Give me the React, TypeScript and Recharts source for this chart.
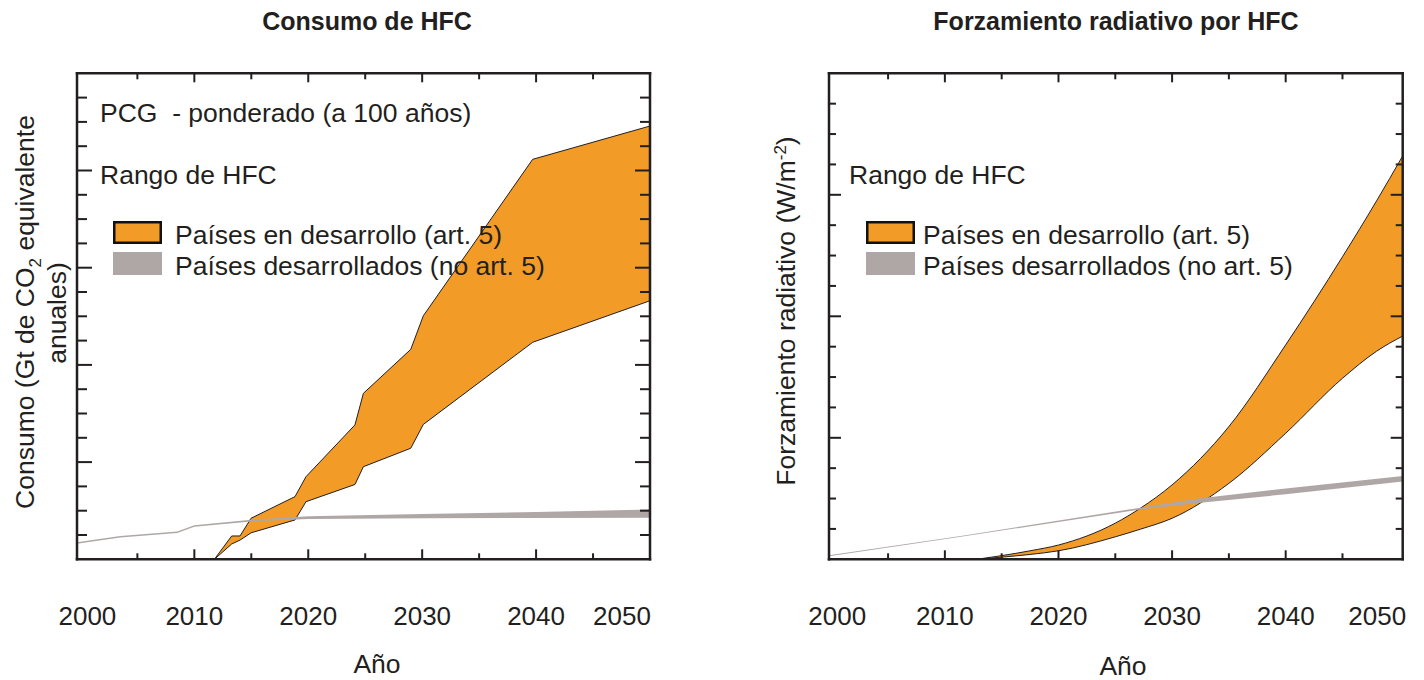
import { Area, ComposedChart, XAxis, YAxis } from "recharts";

const ORANGE = "#F39B27";
const GREY = "#AFA7A5";
const INK = "#231F20";
const FONT = "'Liberation Sans', Arial, sans-serif";

const YEAR_TICKS = [2000, 2005, 2010, 2015, 2020, 2025, 2030, 2035, 2040, 2045, 2050];
const CONSUMO_TICKS = [0, 1, 2, 3, 4, 5, 6, 7, 8, 9, 10, 11, 12, 13, 14, 15, 16, 17, 18, 19, 20];
const FORZ_TICKS = [0, 1, 2, 3, 4, 5, 6, 7, 8, 9, 10, 11, 12, 13, 14, 15, 16];

// Consumo de HFC (unlabelled scale)
const consumoDevYears = [2011.76, 2013.28, 2014.01, 2014.98, 2018.84, 2019.8, 2024.1, 2024.84, 2029.0, 2030.1, 2039.7, 2050];
const consumoDevLow = [0, 0.63, 0.79, 1.09, 1.62, 2.37, 3.08, 3.81, 4.57, 5.55, 8.93, 10.64];
const consumoDevHigh = [0, 0.96, 0.96, 1.69, 2.58, 3.4, 5.53, 6.83, 8.64, 10.02, 16.46, 17.83];

const consumoNonYears = [1999.7, 2003.5, 2008.5, 2010, 2015, 2020, 2030, 2040, 2050];
const consumoNonLow = [0.64, 0.9, 1.08, 1.34, 1.56, 1.66, 1.69, 1.7, 1.71];
const consumoNonHigh = [0.7, 0.96, 1.14, 1.4, 1.63, 1.77, 1.86, 1.95, 2.05];

// Forzamiento radiativo por HFC
const forzDevYears = [2012.8, 2015, 2017.5, 2020, 2025, 2027.2, 2030, 2035, 2040, 2045, 2048, 2050.3];
const forzDevLow = [0, 0.07, 0.16, 0.28, 0.74, 0.99, 1.35, 2.5, 4.15, 5.96, 6.85, 7.35];
const forzDevHigh = [0, 0.12, 0.28, 0.47, 1.19, 1.68, 2.45, 4.37, 7.06, 9.96, 11.8, 13.28];

const forzNonYears = [1999.8, 2011.4, 2027.2, 2032.5, 2040, 2050.3];
const forzNonLow = [0.1, 0.74, 1.64, 1.86, 2.14, 2.56];
const forzNonHigh = [0.13, 0.77, 1.7, 2.01, 2.33, 2.74];

const toRange = (years: number[], low: number[], high: number[]) =>
  years.map((year, i) => ({ year, range: [low[i], high[i]] }));

type PanelProps = {
  left: number;
  margin: { top: number; left: number; right: number; bottom: number };
  xDomain: [number, number];
  yTicks: number[];
  curve: "linear" | "monotone";
  dev: { year: number; range: number[] }[];
  nonDev: { year: number; range: number[] }[];
  yMajor: number;
  yMinor: number;
  bottomMajor: number;
  firstDx: number;
  lastDx: number;
};

const axisLine = { stroke: INK, strokeWidth: 2.5, strokeLinecap: "square" as const };

function Panel(p: PanelProps) {
  const yMax = p.yTicks[p.yTicks.length - 1];
  // axes are 1px thick boxes, so shrink margins by 1 on every side
  const m = { top: p.margin.top - 1, left: p.margin.left - 1, right: p.margin.right - 1, bottom: p.margin.bottom - 1 };

  const xTick = (side: "bottom" | "top") => (props: any) => {
    const { x, y, payload } = props;
    const v = payload.value;
    const major = v % 10 === 0;
    const len = side === "bottom" ? (major ? p.bottomMajor : 6) : major ? 9 : 6;
    const dir = side === "bottom" ? -1 : 1;
    const edge = v === 2000 || v === 2050;
    const dx = v === 2000 ? p.firstDx : v === 2050 ? p.lastDx : 0;
    return (
      <g>
        {!edge && <line x1={x} x2={x} y1={y} y2={y + dir * len} stroke={INK} strokeWidth={2} />}
        {side === "bottom" && major && (
          <text x={x + dx} y={y + 66} textAnchor="middle" fontSize={26} fontFamily={FONT} fill={INK}>
            {v}
          </text>
        )}
      </g>
    );
  };

  const yTick = (side: "left" | "right") => (props: any) => {
    const { x, y, payload } = props;
    const v = payload.value;
    if (v === 0 || v === yMax) return <g />;
    const len = v % 4 === 0 ? p.yMajor : p.yMinor;
    const dir = side === "left" ? 1 : -1;
    return <line x1={x} x2={x + dir * len} y1={y} y2={y} stroke={INK} strokeWidth={2} />;
  };

  return (
    <div style={{ position: "absolute", left: p.left, top: 0 }}>
      <ComposedChart width={712} height={680} margin={m}>
        <XAxis
          xAxisId="b"
          type="number"
          dataKey="year"
          domain={p.xDomain}
          allowDataOverflow
          ticks={YEAR_TICKS}
          interval={0}
          orientation="bottom"
          height={1}
          tickSize={0}
          tickMargin={0}
          tickLine={false}
          axisLine={axisLine}
          tick={xTick("bottom")}
        />
        <XAxis
          xAxisId="t"
          type="number"
          dataKey="year"
          domain={p.xDomain}
          allowDataOverflow
          ticks={YEAR_TICKS}
          interval={0}
          orientation="top"
          height={1}
          tickSize={0}
          tickMargin={0}
          tickLine={false}
          axisLine={axisLine}
          tick={xTick("top")}
        />
        <YAxis
          yAxisId="l"
          type="number"
          domain={[0, yMax]}
          allowDataOverflow
          ticks={p.yTicks}
          interval={0}
          orientation="left"
          width={1}
          tickSize={0}
          tickMargin={0}
          tickLine={false}
          axisLine={axisLine}
          tick={yTick("left")}
        />
        <YAxis
          yAxisId="r"
          type="number"
          domain={[0, yMax]}
          allowDataOverflow
          ticks={p.yTicks}
          interval={0}
          orientation="right"
          width={1}
          tickSize={0}
          tickMargin={0}
          tickLine={false}
          axisLine={axisLine}
          tick={yTick("right")}
        />
        <Area
          xAxisId="b"
          yAxisId="l"
          data={p.dev}
          dataKey="range"
          type={p.curve}
          fill={ORANGE}
          fillOpacity={1}
          stroke={INK}
          strokeWidth={1}
          dot={false}
          activeDot={false}
          isAnimationActive={false}
        />
        <Area
          xAxisId="b"
          yAxisId="l"
          data={p.nonDev}
          dataKey="range"
          type="linear"
          fill={GREY}
          fillOpacity={1}
          stroke="none"
          dot={false}
          activeDot={false}
          isAnimationActive={false}
        />
      </ComposedChart>
    </div>
  );
}

function Swatches({ x }: { x: number }) {
  return (
    <g>
      <rect x={x + 1.25} y={222.25} width={46.5} height={20.5} fill={ORANGE} stroke="#111" strokeWidth={2.5} />
      <rect x={x} y={252} width={49} height={23} fill={GREY} />
    </g>
  );
}

export default function App() {
  const txt = { fontFamily: FONT, fontSize: 26.5, fill: INK };
  return (
    <div style={{ position: "absolute", left: 0, top: 0, width: 1424, height: 680, background: "#fff" }}>
      <Panel
        left={0}
        margin={{ top: 73.3, left: 77, right: 62, bottom: 120.7 }}
        xDomain={[1999.7, 2050]}
        yTicks={CONSUMO_TICKS}
        curve="linear"
        dev={toRange(consumoDevYears, consumoDevLow, consumoDevHigh)}
        nonDev={toRange(consumoNonYears, consumoNonLow, consumoNonHigh)}
        yMajor={15}
        yMinor={10}
        bottomMajor={10}
        firstDx={7}
        lastDx={-28}
      />
      <Panel
        left={712}
        margin={{ top: 73.3, left: 117, right: 21.3, bottom: 120.7 }}
        xDomain={[1999.8, 2050.3]}
        yTicks={FORZ_TICKS}
        curve="monotone"
        dev={toRange(forzDevYears, forzDevLow, forzDevHigh)}
        nonDev={toRange(forzNonYears, forzNonLow, forzNonHigh)}
        yMajor={12}
        yMinor={7}
        bottomMajor={9}
        firstDx={6}
        lastDx={-22}
      />
      <svg width={1424} height={680} style={{ position: "absolute", left: 0, top: 0, pointerEvents: "none" }}>
        <text x={367} y={30} textAnchor="middle" fontFamily={FONT} fontSize={25} fontWeight="bold" fill={INK}>
          Consumo de HFC
        </text>
        <text x={1116} y={30} textAnchor="middle" fontFamily={FONT} fontSize={25} fontWeight="bold" fill={INK}>
          Forzamiento radiativo por HFC
        </text>

        <text transform="translate(34,312) rotate(-90)" textAnchor="middle" {...txt}>
          Consumo (Gt de CO
          <tspan dy={7} fontSize={17}>2</tspan>
          <tspan dy={-7}> equivalente</tspan>
        </text>
        <text transform="translate(66,313) rotate(-90)" textAnchor="middle" {...txt}>
          anuales)
        </text>
        <text transform="translate(795,311) rotate(-90)" textAnchor="middle" {...txt}>
          Forzamiento radiativo (W/m
          <tspan dy={-9} fontSize={17}>-2</tspan>
          <tspan dy={9}>)</tspan>
        </text>

        <text x={377} y={673} textAnchor="middle" {...txt}>Año</text>
        <text x={1123} y={675} textAnchor="middle" {...txt}>Año</text>

        <text x={100} y={122} style={{ whiteSpace: "pre" }} {...txt}>PCG  - ponderado (a 100 años)</text>
        <text x={100} y={184} {...txt}>Rango de HFC</text>
        <Swatches x={113} />
        <text x={175} y={244} {...txt}>Países en desarrollo (art. 5)</text>
        <text x={175} y={275} {...txt}>Países desarrollados (no art. 5)</text>

        <text x={849} y={184} {...txt}>Rango de HFC</text>
        <Swatches x={866} />
        <text x={923} y={244} {...txt}>Países en desarrollo (art. 5)</text>
        <text x={923} y={275} {...txt}>Países desarrollados (no art. 5)</text>
      </svg>
    </div>
  );
}
